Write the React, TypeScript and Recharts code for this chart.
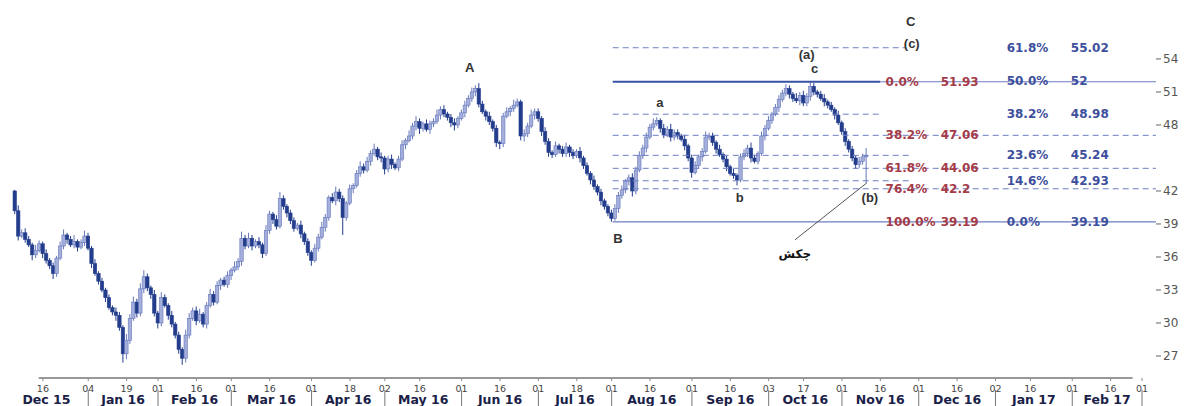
import React from 'react';
import { ComposedChart, Bar, XAxis, YAxis, ReferenceLine, ReferenceDot } from 'recharts';

// weekday index (0 = 16 Dec 2015) of the first candle
const FIRST_DAY = -8;
const FIRST_OPEN = 42.0;

const closes = [
  40.2, 37.9, 38.2, 37.6, 37.1, 36.2, 36.6, 37.2, 36.3, 35.7,
  35.2, 34.5, 35.9, 37.0, 38.0, 37.6, 37.1, 37.4, 36.9, 37.3,
  37.9, 36.8, 35.4, 34.5, 33.8, 33.0, 32.3, 31.4, 31.0, 30.7,
  29.6, 27.2, 28.4, 30.4, 31.9, 30.9, 33.1, 34.2, 33.2, 32.6,
  30.9, 30.0, 32.3, 31.6, 30.7, 29.9, 28.9, 27.6, 26.8, 28.9,
  30.4, 31.1, 30.2, 30.8, 29.9, 31.6, 32.6, 31.9, 33.4, 33.9,
  33.5, 34.3, 34.8, 35.1, 35.6, 37.7, 37.0, 37.7, 37.0, 37.4,
  37.1, 36.3, 38.4, 39.9, 39.4, 38.8, 41.3, 40.6, 40.0, 39.3,
  38.6, 38.9, 38.1, 37.4, 36.4, 35.7, 36.8, 37.8, 38.7, 39.6,
  41.4, 41.1, 41.9, 41.3, 39.6, 40.9, 42.2, 42.5, 43.6, 44.2,
  43.9, 44.7, 45.4, 45.8, 45.1, 45.0, 44.0, 44.9, 44.4, 44.1,
  44.9, 46.2, 46.6, 47.0, 47.9, 48.3, 47.7, 48.1, 47.6, 48.1,
  48.3, 48.9, 49.4, 49.0, 48.7, 48.2, 48.0, 48.6, 49.1, 49.8,
  50.4, 51.0, 51.3, 49.9, 49.2, 48.8, 48.3, 47.7, 46.4, 46.3,
  48.8, 49.2, 49.5, 49.8, 50.1, 47.0, 47.2, 47.9, 48.9, 49.2,
  48.6, 47.4, 46.5, 45.5, 45.3, 46.1, 45.8, 45.4, 46.0, 45.5,
  45.2, 45.6, 45.0, 44.3, 43.6, 43.0, 42.4, 41.9, 41.1, 40.6,
  40.0, 39.5, 40.4, 41.6, 42.1, 42.9, 43.2, 42.0, 43.9, 45.2,
  45.9, 46.9, 47.8, 48.1, 48.4, 47.7, 47.1, 47.6, 46.9, 47.3,
  47.0, 46.7, 46.1, 45.0, 43.7, 44.3, 45.1, 45.6, 46.9, 47.0,
  46.4, 45.8, 45.3, 44.9, 44.2, 43.6, 43.4, 43.0, 45.1, 45.4,
  45.9, 45.0, 44.7, 45.4, 47.0, 47.7, 48.4, 49.0, 49.6, 50.3,
  50.9, 51.3, 50.8, 50.4, 50.2, 50.7, 50.0, 50.6, 51.5, 51.0,
  50.8, 50.4, 50.1, 49.8, 49.4, 48.9, 48.2, 47.4, 46.5, 45.8,
  45.0, 44.4, 44.7, 45.1, 45.2,
];

// wick lengths above / below the body, in tenths of a point
const upperWick = [
  1,5,3,4,3,2,5,3,2,4, 2,3,2,4,5,2,3,6,2,3, 5,3,2,4,2,3,2,3,2,4, 3,2,6,4,5,3,5,6,3,2,
  4,2,5,3,2,4,2,3,2,5, 5,3,4,5,2,3,5,3,4,2, 3,4,2,5,3,6,3,5,3,2, 4,2,5,3,2,4,6,3,2,3,
  3,2,4,2,3,2,4,3,5,3, 2,4,5,3,3,2,4,2,3,5, 3,4,3,5,2,4,2,3,4,2, 3,4,2,5,3,5,3,2,4,3,
  3,5,3,4,2,3,4,2,3,4, 3,4,3,5,3,2,4,2,3,2, 3,4,2,5,3,2,4,3,5,3, 3,2,4,3,2,4,2,3,4,2,
  3,2,4,2,3,2,4,2,3,2, 2,3,4,3,4,2,3,4,3,4, 3,4,3,5,3,2,4,3,5,3, 3,2,4,2,3,4,2,3,5,3,
  3,2,4,2,3,2,4,2,3,4, 3,5,3,2,4,3,4,2,3,4, 3,4,3,2,5,3,4,3,4,3, 2,3,4,2,3,2,4,2,3,2,
  3,2,4,3,7,
];
const lowerWick = [
  3,4,2,3,2,5,3,2,4,3, 3,5,3,2,3,4,2,3,4,2, 3,2,4,2,3,2,4,2,3,5, 3,8,5,3,2,4,3,4,3,4,
  3,5,3,2,4,3,3,4,6,4, 3,2,4,2,3,4,2,3,2,4, 2,3,4,2,3,4,3,2,4,2, 3,4,2,3,4,3,2,3,4,3,
  3,2,4,3,3,5,2,3,2,4, 3,2,4,3,16,3,2,4,2,3, 3,2,4,2,3,4,5,3,4,2, 3,2,4,2,3,4,5,3,2,4,
  3,2,4,3,3,4,5,3,2,4, 2,3,4,3,2,4,3,3,4,5, 3,2,4,3,2,4,5,3,2,4, 3,4,3,4,3,2,4,3,3,4,
  3,2,4,3,2,4,3,3,4,3, 3,3,2,4,3,3,4,5,3,2, 3,4,2,3,2,4,3,2,4,3, 3,2,4,3,5,2,3,4,2,3,
  3,4,2,3,4,2,3,5,2,3, 3,4,2,3,2,4,2,3,2,4, 2,3,4,3,2,4,3,3,4,3, 3,2,4,3,2,4,2,3,4,3,
  3,4,3,3,24,
];

// axis ticks (weekday indices) and labels
const dayTicks = [0, 13, 24, 33, 44, 54, 65, 77, 88, 98, 108, 120, 131, 142, 153, 163, 174, 186, 197, 208, 218, 229, 240, 251, 262, 273, 283, 295, 306, 315];
const dayTickLabels = ['16', '04', '19', '01', '16', '01', '16', '01', '18', '02', '16', '01', '16', '01', '18', '01', '16', '01', '16', '03', '17', '01', '16', '01', '16', '02', '16', '01', '16', '01'];
const monthStarts = [-11, 13, 33, 54, 77, 98, 120, 142, 163, 186, 208, 229, 251, 273, 295, 315];
const monthNames = ['Dec 15', 'Jan 16', 'Feb 16', 'Mar 16', 'Apr 16', 'May 16', 'Jun 16', 'Jul 16', 'Aug 16', 'Sep 16', 'Oct 16', 'Nov 16', 'Dec 16', 'Jan 17', 'Feb 17'];
const priceTicks = [27, 30, 33, 36, 39, 42, 48, 51, 54];

// Fibonacci levels
const fibStart = 163.3;
const retraceLevels = [51.93, 47.06, 44.06, 42.2, 39.19];
const retracePct = ['0.0%', '38.2%', '61.8%', '76.4%', '100.0%'];
const retraceText = ['51.93', '47.06', '44.06', '42.2', '39.19'];
const extLevels = [55.02, 52, 48.98, 45.24, 42.93, 39.19];
const extPct = ['61.8%', '50.0%', '38.2%', '23.6%', '14.6%', '0.0%'];
const extText = ['55.02', '52', '48.98', '45.24', '42.93', '39.19'];
const dashedLevels = [55.02, 48.98, 47.06, 45.24, 44.06, 42.93, 42.2];
const dashedEnds = [247.3, 239.8, 319, 248.4, 319, 248.4, 319];

// wave labels
const waveNames = ['A', 'B', 'a', 'b', 'c', '(a)', 'C', '(c)', '(b)'];
const waveX = [122.3, 164.8, 176.8, 199.7, 221.2, 218.9, 248.7, 249, 237];
const waveY = [53.2, 37.7, 50.0, 41.45, 53.1, 54.45, 57.45, 55.45, 41.45];

const hammerLine = [{ x: 236.1, y: 42.73 }, { x: 215.5, y: 37.55 }];
const hammerText = { x: 215.5, y: 36.3, text: 'چکش' };

const Y_MIN = 25.0;
const Y_MAX = 59.36;
const X_MIN = -10;
const X_MAX = 319;

const candles = closes.map((c, k) => {
  const open = k === 0 ? FIRST_OPEN : closes[k - 1];
  return {
    i: FIRST_DAY + k,
    open,
    close: c,
    high: Math.max(open, c) + upperWick[k] / 10,
    low: Math.min(open, c) - lowerWick[k] / 10,
  };
});

const monthCenters = monthNames.map((_, j) => (monthStarts[j] + monthStarts[j + 1]) / 2);
const separatorTicks = monthStarts.slice(1);
const monthAxisTicks = [...monthCenters, ...separatorTicks];

const DOWN = '#233d8c';
const UP_FILL = '#a3aedb';
const UP_STROKE = '#6577bb';
const RED = '#a33b48';
const BLUE = '#3d4f9c';
const LINE = '#6e7ec2';
const LABEL_FONT = 'DejaVu Sans, Verdana, sans-serif';

const Candle = (props: any) => {
  const { x, y, width, height, payload } = props;
  if (!payload || payload.close == null) return null;
  const { open, close, high, low } = payload;
  const top = Math.min(y, y + height);
  const h = Math.abs(height);
  const ppu = h / (high - low || 1);
  const yOf = (v: number) => top + (high - v) * ppu;
  const cx = x + width / 2;
  const up = close >= open;
  const bTop = yOf(Math.max(open, close));
  const bBot = yOf(Math.min(open, close));
  return (
    <g>
      <line x1={cx} x2={cx} y1={top} y2={top + h} stroke={up ? UP_STROKE : DOWN} strokeWidth={1} />
      <rect
        x={cx - 1.7}
        y={bTop}
        width={3.4}
        height={Math.max(1, bBot - bTop)}
        fill={up ? UP_FILL : DOWN}
        stroke={up ? UP_STROKE : DOWN}
        strokeWidth={0.6}
      />
    </g>
  );
};

const DayTick = (props: any) => {
  const { x, y, payload } = props;
  const idx = dayTicks.indexOf(payload.value);
  return (
    <text x={x} y={y} dy={5} textAnchor="middle" dominantBaseline="central" fontSize={9.5} fill="#444" fontFamily="DejaVu Sans, sans-serif">
      {dayTickLabels[idx]}
    </text>
  );
};

const MonthTick = (props: any) => {
  const { x, y, payload } = props;
  if (separatorTicks.includes(payload.value)) {
    return <line x1={x} x2={x} y1={y - 2} y2={y + 14} stroke="#777" strokeWidth={1} />;
  }
  const j = monthCenters.indexOf(payload.value);
  return (
    <text x={x} y={y} dy={7} textAnchor="middle" dominantBaseline="central" fontSize={12.5} fontWeight="bold" fill="#1a2148" fontFamily="DejaVu Sans, sans-serif">
      {monthNames[j]}
    </text>
  );
};

const textShape = (label: string, fill: string, anchor: string, size: number, family: string) => (p: any) => (
  <text
    x={p.cx}
    y={p.cy}
    textAnchor={anchor}
    dominantBaseline="central"
    fontSize={size}
    fontWeight="bold"
    fill={fill}
    fontFamily={family}
  >
    {label}
  </text>
);

export default function App() {
  return (
    <div style={{ position: 'absolute', left: 0, top: 0, width: 1201, height: 406, background: '#fff' }}>
      <ComposedChart width={1201} height={406} data={candles} margin={{ top: 0, right: 0, bottom: 0, left: 8 }}>
        <XAxis
          dataKey="i"
          type="number"
          domain={[X_MIN, X_MAX]}
          allowDataOverflow
          ticks={dayTicks}
          interval={0}
          height={14}
          axisLine={false}
          tickLine={{ stroke: '#888' }}
          tickSize={3}
          tickMargin={2}
          tick={<DayTick />}
        />
        <XAxis
          xAxisId="m"
          dataKey="i"
          type="number"
          domain={[X_MIN, X_MAX]}
          allowDataOverflow
          ticks={monthAxisTicks}
          interval={0}
          height={14}
          axisLine={false}
          tickLine={false}
          tickSize={0}
          tickMargin={0}
          tick={<MonthTick />}
        />
        <YAxis
          orientation="right"
          type="number"
          domain={[Y_MIN, Y_MAX]}
          allowDataOverflow
          ticks={priceTicks}
          interval={0}
          width={45}
          axisLine={false}
          tickLine={{ stroke: '#666' }}
          tickSize={5}
          tickMargin={2}
          tick={{ fill: '#555', fontSize: 12, fontFamily: 'DejaVu Sans, sans-serif' }}
        />

        {/* x axis base line */}
        <ReferenceLine segment={[{ x: -1.2, y: Y_MIN }, { x: 312.3, y: Y_MIN }]} stroke="#999" strokeWidth={2} />

        {/* Fibonacci lines */}
        {dashedLevels.map((v, j) => (
          <ReferenceLine key={'d' + j} segment={[{ x: fibStart, y: v }, { x: dashedEnds[j], y: v }]} stroke={LINE} strokeWidth={1} strokeDasharray="6 4" />
        ))}
        <ReferenceLine segment={[{ x: fibStart, y: retraceLevels[0] }, { x: 240, y: retraceLevels[0] }]} stroke="#3a52a3" strokeWidth={2} />
        <ReferenceLine segment={[{ x: 240, y: retraceLevels[0] }, { x: X_MAX, y: retraceLevels[0] }]} stroke={LINE} strokeWidth={1.2} />
        <ReferenceLine segment={[{ x: fibStart, y: retraceLevels[4] }, { x: X_MAX, y: retraceLevels[4] }]} stroke={LINE} strokeWidth={1.3} />

        {/* hammer pointer */}
        <ReferenceLine segment={hammerLine} stroke="#555" strokeWidth={1} />

        <Bar dataKey={(d: any) => [d.low, d.high]} barSize={3} shape={<Candle />} isAnimationActive={false} />

        {retraceLevels.map((v, j) => (
          <ReferenceDot key={'rp' + j} x={241.5} y={v} r={0} shape={textShape(retracePct[j], RED, 'start', 12, LABEL_FONT)} />
        ))}
        {retraceLevels.map((v, j) => (
          <ReferenceDot key={'rv' + j} x={257.3} y={v} r={0} shape={textShape(retraceText[j], RED, 'start', 12, LABEL_FONT)} />
        ))}
        {extLevels.map((v, j) => (
          <ReferenceDot key={'ep' + j} x={276.2} y={v} r={0} shape={textShape(extPct[j], BLUE, 'start', 12, LABEL_FONT)} />
        ))}
        {extLevels.map((v, j) => (
          <ReferenceDot key={'ev' + j} x={294.6} y={v} r={0} shape={textShape(extText[j], BLUE, 'start', 12, LABEL_FONT)} />
        ))}

        {waveNames.map((n, j) => (
          <ReferenceDot key={'w' + j} x={waveX[j]} y={waveY[j]} r={0} shape={textShape(n, '#333', 'middle', 13, 'Liberation Sans, Arial, sans-serif')} />
        ))}
        <ReferenceDot x={hammerText.x} y={hammerText.y} r={0} shape={textShape(hammerText.text, '#111', 'middle', 12, 'DejaVu Sans, sans-serif')} />
      </ComposedChart>
    </div>
  );
}
